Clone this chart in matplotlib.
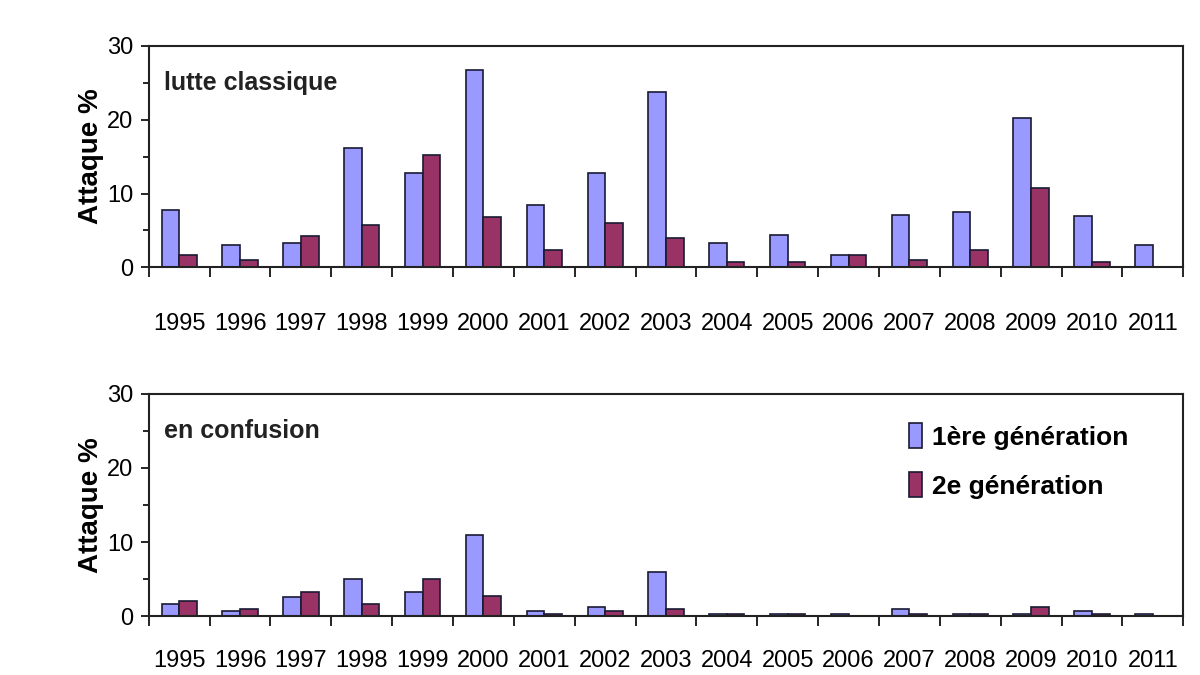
import matplotlib
matplotlib.use('Agg')
import matplotlib.pyplot as plt
import numpy as np
from matplotlib.ticker import MultipleLocator

# years on the x axis
years = ['1995', '1996', '1997', '1998', '1999', '2000', '2001', '2002', '2003',
         '2004', '2005', '2006', '2007', '2008', '2009', '2010', '2011']

# lutte classique (attack %)
classique_gen1 = [7.7, 3.0, 3.3, 16.2, 12.8, 26.7, 8.5, 12.8, 23.7,
                  3.3, 4.4, 1.6, 7.1, 7.5, 20.2, 7.0, 3.0]
classique_gen2 = [1.7, 1.0, 4.3, 5.7, 15.2, 6.8, 2.4, 6.0, 4.0,
                  0.7, 0.7, 1.7, 1.0, 2.4, 10.8, 0.7, 0.0]

# en confusion (attack %)
confusion_gen1 = [1.7, 0.7, 2.6, 5.0, 3.3, 11.0, 0.7, 1.3, 6.0,
                  0.3, 0.3, 0.3, 1.0, 0.3, 0.3, 0.7, 0.3]
confusion_gen2 = [2.05, 1.0, 3.3, 1.7, 5.0, 2.7, 0.35, 0.7, 1.0,
                  0.3, 0.3, 0.0, 0.3, 0.3, 1.3, 0.3, 0.0]

labels = ['1ère génération', '2e génération']

font = ['Liberation Sans Narrow', 'Liberation Sans', 'DejaVu Sans']
plt.rcParams['font.family'] = font

blue = '#9999FF'
red = '#993366'
edge = '#1a1a33'

fig = plt.figure(figsize=(12, 6.75), dpi=100)
ax1 = fig.add_axes([0.124, 0.604, 0.862, 0.328])
ax2 = fig.add_axes([0.124, 0.087, 0.862, 0.330])

x = np.arange(len(years))
w = 0.29


def draw(ax, g1, g2, title, pad):
    ax.bar(x - w / 2, g1, w, color=blue, edgecolor=edge, linewidth=1.2, label=labels[0])
    ax.bar(x + w / 2, g2, w, color=red, edgecolor=edge, linewidth=1.2, label=labels[1])
    ax.set_xlim(-0.5, len(years) - 0.5)
    ax.set_ylim(0, 30)
    ax.yaxis.set_major_locator(MultipleLocator(10))
    ax.yaxis.set_minor_locator(MultipleLocator(5))
    ax.tick_params(axis='y', which='major', length=6, width=1.2, labelsize=17, pad=5)
    ax.tick_params(axis='y', which='minor', length=4, width=1.2)
    # category ticks at the boundaries, labels in the middle
    ax.set_xticks(np.arange(-0.5, len(years), 1.0))
    ax.set_xticklabels([])
    ax.set_xticks(x, minor=True)
    ax.set_xticklabels(years, minor=True, fontsize=17)
    ax.tick_params(axis='x', which='major', length=7, width=1.2, direction='out')
    ax.tick_params(axis='x', which='minor', length=0, pad=pad)
    for s in ax.spines.values():
        s.set_linewidth(1.5)
        s.set_color('#222222')
    ax.set_ylabel('Attaque %', fontsize=20, fontweight='bold', labelpad=2)
    ax.text(0.015, 0.80, title, transform=ax.transAxes, fontsize=18,
            fontweight='bold', color='#222222')


draw(ax1, classique_gen1, classique_gen2, 'lutte classique', 33)
draw(ax2, confusion_gen1, confusion_gen2, 'en confusion', 24)

ax2.legend(loc='upper left', bbox_to_anchor=(0.725, 0.915), frameon=False,
           prop={'family': font, 'size': 19, 'weight': 'bold'},
           handlelength=0.5, handleheight=1.1, handletextpad=0.35,
           labelspacing=0.85, borderaxespad=0)

fig.savefig('out.png', dpi=100)
